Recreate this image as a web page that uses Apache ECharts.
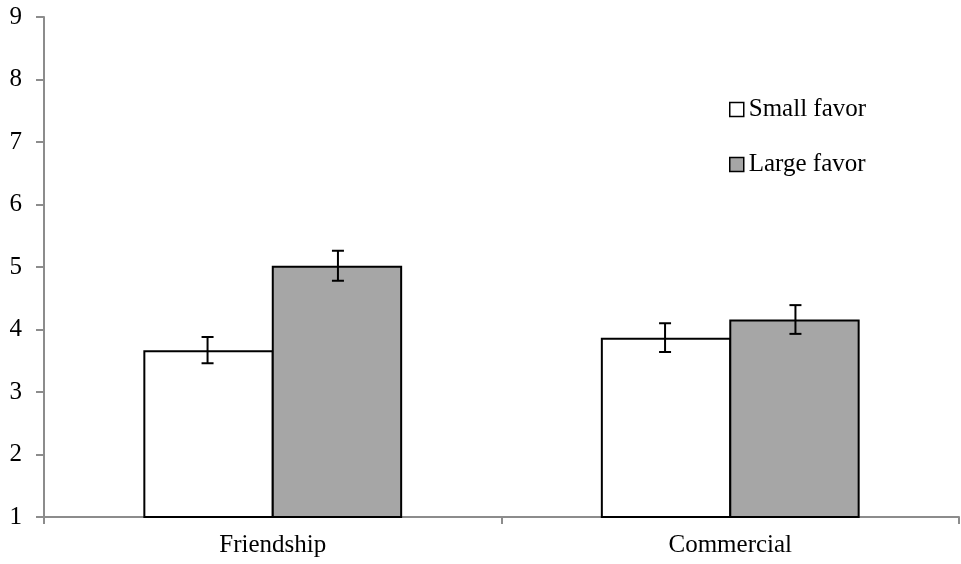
<!DOCTYPE html>
<html>
<head>
<meta charset="utf-8">
<script src="https://cdn.jsdelivr.net/npm/echarts@6/dist/echarts.min.js"></script>
<style>
  html, body { margin: 0; padding: 0; background: #fff; }
  #chart { width: 961px; height: 564px; }
</style>
</head>
<body>
<div id="chart"></div>
<script>
// Condition categories and mean ratings with standard errors
const categories = ['Friendship', 'Commercial'];
const seriesNames = ['Small favor', 'Large favor'];
const smallFavor = [3.67, 3.87];
const largeFavor = [5.02, 4.16];
const smallFavorErr = [0.21, 0.23];
const largeFavorErr = [0.24, 0.23];
const yTicks = [1, 2, 3, 4, 5, 6, 7, 8, 9];

const FONT = 'Liberation Serif';
const FONT_SIZE = 25;
const BAR_FRACTION = 0.285;

// Build error-bar items: [categoryIndex, mean, err, side]
function errItems(means, errs, side) {
  return means.map((m, i) => [i, m, errs[i], side]);
}

function renderErrorBar(params, api) {
  const idx = api.value(0);
  const mean = api.value(1);
  const err = api.value(2);
  const side = api.value(3);
  const band = api.size([1, 0])[0];
  const barW = band * BAR_FRACTION;
  const center = api.coord([idx, mean]);
  const x = center[0] + side * barW / 2;
  const top = api.coord([idx, mean + err])[1];
  const bottom = api.coord([idx, mean - err])[1];
  const half = 6;
  const style = { stroke: '#000', lineWidth: 2 };
  return {
    type: 'group',
    children: [
      { type: 'line', shape: { x1: x, y1: top, x2: x, y2: bottom }, style },
      { type: 'line', shape: { x1: x - half, y1: top, x2: x + half, y2: top }, style },
      { type: 'line', shape: { x1: x - half, y1: bottom, x2: x + half, y2: bottom }, style }
    ]
  };
}

const chart = echarts.init(document.getElementById('chart'), null, { renderer: 'canvas' });

const axisColor = '#8c8c8c';

chart.setOption({
  animation: false,
  backgroundColor: '#fff',
  textStyle: { fontFamily: FONT },
  grid: { left: 44, right: 2, top: 17, bottom: 47, containLabel: false },
  legend: {
    orient: 'vertical',
    left: 729,
    top: 97,
    padding: 0,
    itemWidth: 14,
    itemHeight: 14,
    itemGap: 30,
    selectedMode: false,
    textStyle: { fontFamily: FONT, fontSize: FONT_SIZE, color: '#000', lineHeight: 24 },
    data: [
      { name: seriesNames[0], icon: 'rect', itemStyle: { color: '#fff', borderColor: '#000', borderWidth: 1.5 } },
      { name: seriesNames[1], icon: 'rect', itemStyle: { color: '#a6a6a6', borderColor: '#000', borderWidth: 1.5 } }
    ]
  },
  xAxis: {
    type: 'category',
    data: categories,
    axisLine: { lineStyle: { color: axisColor, width: 2 } },
    axisTick: { show: true, length: 7, lineStyle: { color: axisColor, width: 2 } },
    axisLabel: { fontFamily: FONT, fontSize: FONT_SIZE, color: '#000', margin: 16 },
    splitLine: { show: false }
  },
  yAxis: {
    type: 'value',
    min: yTicks[0],
    max: yTicks[yTicks.length - 1],
    interval: 1,
    axisLine: { show: true, lineStyle: { color: axisColor, width: 2 } },
    axisTick: { show: true, length: 8, lineStyle: { color: axisColor, width: 2 } },
    axisLabel: { fontFamily: FONT, fontSize: FONT_SIZE, color: '#000', margin: 22 },
    splitLine: { show: false }
  },
  series: [
    {
      name: seriesNames[0],
      type: 'bar',
      data: smallFavor,
      barWidth: (BAR_FRACTION * 100) + '%',
      barGap: '-1.5%',
      itemStyle: { color: '#fff', borderColor: '#000', borderWidth: 2 },
      z: 2
    },
    {
      name: seriesNames[1],
      type: 'bar',
      data: largeFavor,
      barWidth: (BAR_FRACTION * 100) + '%',
      barGap: '-1.5%',
      itemStyle: { color: '#a6a6a6', borderColor: '#000', borderWidth: 2 },
      z: 2
    },
    {
      name: 'smallErr',
      type: 'custom',
      renderItem: renderErrorBar,
      data: errItems(smallFavor, smallFavorErr, -1),
      encode: { x: 0, y: 1 },
      z: 5,
      silent: true
    },
    {
      name: 'largeErr',
      type: 'custom',
      renderItem: renderErrorBar,
      data: errItems(largeFavor, largeFavorErr, 1),
      encode: { x: 0, y: 1 },
      z: 5,
      silent: true
    }
  ]
});
</script>
</body>
</html>
